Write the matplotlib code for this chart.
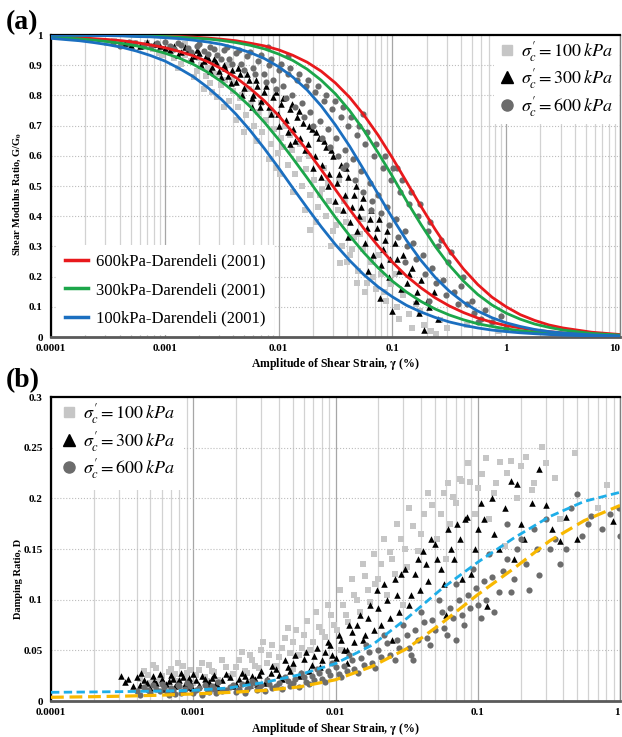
import numpy as np
import matplotlib.pyplot as plt
from matplotlib.ticker import FixedLocator, FixedFormatter, LogLocator, NullFormatter
from matplotlib.lines import Line2D

plt.rcParams['font.family'] = ['Liberation Serif', 'DejaVu Serif']
plt.rcParams['mathtext.fontset'] = 'stix'

# ---- panel (a): shear modulus ratio ----
a_xticks = [0.0001, 0.001, 0.01, 0.1, 1, 10]
a_xticklabels = ['0.0001', '0.001', '0.01', '0.1', '1', '10']
a_yticks = [0, 0.1, 0.2, 0.3, 0.4, 0.5, 0.6, 0.7, 0.8, 0.9, 1.0]
a_yticklabels = ['0', '0.1', '0.2', '0.3', '0.4', '0.5', '0.6', '0.7', '0.8', '0.9', '1']

# Darendeli (2001) curves, two curves per confining stress
dar_strain = [0.0001, 0.000133, 0.000178, 0.000237, 0.000316, 0.000422, 0.000562, 0.00075,
              0.001, 0.00133, 0.00178, 0.00237, 0.00316, 0.00422, 0.00562, 0.0075,
              0.01, 0.0133, 0.0178, 0.0237, 0.0316, 0.0422, 0.0562, 0.075,
              0.1, 0.133, 0.178, 0.237, 0.316, 0.422, 0.562, 0.75,
              1, 1.33, 1.78, 2.37, 3.16, 5.62, 10]
dar100_low = [0.989, 0.985, 0.981, 0.975, 0.968, 0.959, 0.947, 0.932, 0.914, 0.890, 0.862, 0.827,
              0.786, 0.738, 0.684, 0.624, 0.560, 0.494, 0.428, 0.365, 0.306, 0.253, 0.206, 0.166,
              0.133, 0.105, 0.083, 0.065, 0.050, 0.039, 0.030, 0.023, 0.018, 0.014, 0.011,
              0.0083, 0.0063, 0.0037, 0.0022]
dar300_low = [0.992, 0.990, 0.987, 0.983, 0.978, 0.972, 0.964, 0.953, 0.940, 0.924, 0.903, 0.877,
              0.845, 0.807, 0.763, 0.711, 0.654, 0.592, 0.527, 0.461, 0.396, 0.335, 0.279, 0.229,
              0.185, 0.149, 0.118, 0.093, 0.073, 0.057, 0.044, 0.035, 0.027, 0.021, 0.016,
              0.012, 0.0094, 0.0056, 0.0033]
dar600_low = [0.995, 0.993, 0.991, 0.988, 0.985, 0.981, 0.975, 0.967, 0.958, 0.946, 0.931, 0.912,
              0.888, 0.859, 0.823, 0.782, 0.733, 0.678, 0.618, 0.554, 0.488, 0.422, 0.359, 0.301,
              0.248, 0.202, 0.163, 0.130, 0.103, 0.081, 0.063, 0.049, 0.038, 0.030, 0.023,
              0.018, 0.0136, 0.0080, 0.0048]
dar100_up = [0.999, 0.999, 0.999, 0.998, 0.998, 0.997, 0.995, 0.994, 0.991, 0.988, 0.983, 0.977,
             0.969, 0.957, 0.942, 0.922, 0.895, 0.861, 0.818, 0.765, 0.702, 0.631, 0.553, 0.473,
             0.394, 0.320, 0.254, 0.198, 0.152, 0.115, 0.086, 0.064, 0.047, 0.035, 0.025,
             0.018, 0.0134, 0.0071, 0.0037]
dar300_up = [1.0, 0.999, 0.999, 0.999, 0.999, 0.998, 0.997, 0.996, 0.995, 0.993, 0.990, 0.987,
             0.982, 0.975, 0.966, 0.954, 0.937, 0.916, 0.887, 0.850, 0.805, 0.749, 0.684, 0.610,
             0.532, 0.451, 0.373, 0.301, 0.238, 0.185, 0.141, 0.106, 0.079, 0.059, 0.043,
             0.032, 0.023, 0.012, 0.0065]
dar600_up = [1.0, 1.0, 0.999, 0.999, 0.999, 0.998, 0.998, 0.997, 0.996, 0.995, 0.993, 0.990,
             0.986, 0.981, 0.973, 0.964, 0.951, 0.933, 0.910, 0.880, 0.841, 0.793, 0.735, 0.668,
             0.593, 0.514, 0.433, 0.357, 0.286, 0.225, 0.174, 0.132, 0.100, 0.074, 0.055,
             0.040, 0.030, 0.016, 0.0083]

# test data (strain %, G/G0)
g100 = [(0.00031, 0.975), (0.00042, 0.968), (0.00055, 0.972), (0.00063, 0.960), (0.00078, 0.955),
        (0.00089, 0.942), (0.00105, 0.948), (0.0012, 0.925), (0.0014, 0.905), (0.0015, 0.935),
        (0.0017, 0.915), (0.0019, 0.880), (0.0021, 0.900), (0.0023, 0.865), (0.0025, 0.840),
        (0.0027, 0.870), (0.0029, 0.795), (0.0031, 0.835), (0.0034, 0.850), (0.0037, 0.780),
        (0.0040, 0.815), (0.0044, 0.760), (0.0048, 0.800), (0.0052, 0.735), (0.0057, 0.775),
        (0.0061, 0.700), (0.0066, 0.745), (0.0072, 0.680), (0.0078, 0.720), (0.0085, 0.640),
        (0.0091, 0.690), (0.0098, 0.610), (0.0105, 0.660), (0.0113, 0.700), (0.0120, 0.570),
        (0.0130, 0.620), (0.0140, 0.540), (0.0150, 0.590), (0.0160, 0.500), (0.0175, 0.555),
        (0.0190, 0.470), (0.0205, 0.520), (0.0220, 0.430), (0.0240, 0.490), (0.0260, 0.400),
        (0.0280, 0.450), (0.0300, 0.350), (0.0330, 0.420), (0.0360, 0.300), (0.0390, 0.380),
        (0.0420, 0.270), (0.0460, 0.330), (0.0500, 0.220), (0.0550, 0.290), (0.0600, 0.180),
        (0.0650, 0.250), (0.0720, 0.160), (0.0800, 0.210), (0.0880, 0.120), (0.0970, 0.175),
        (0.110, 0.100), (0.125, 0.140), (0.140, 0.075), (0.160, 0.110), (0.190, 0.040),
        (0.220, 0.020), (0.260, 0.055), (0.0036, 0.900), (0.0250, 0.560), (0.0340, 0.520),
        (0.0015, 0.970), (0.0550, 0.390), (0.0095, 0.560), (0.0022, 0.820), (0.0189, 0.354),
        (0.0345, 0.245), (0.0490, 0.180),
        (0.00036, 0.980), (0.00048, 0.962), (0.00070, 0.975), (0.00095, 0.935), (0.0011, 0.960),
        (0.0013, 0.890), (0.0016, 0.950), (0.0018, 0.860), (0.0020, 0.925), (0.0024, 0.890),
        (0.0026, 0.810), (0.0030, 0.870), (0.0033, 0.760), (0.0039, 0.850), (0.0042, 0.720),
        (0.0046, 0.790), (0.0050, 0.680), (0.0055, 0.820), (0.0064, 0.650), (0.0070, 0.775),
        (0.0082, 0.590), (0.0088, 0.740), (0.0102, 0.540), (0.0110, 0.630), (0.0125, 0.670),
        (0.0135, 0.480), (0.0155, 0.640), (0.0170, 0.420), (0.0185, 0.600), (0.0215, 0.380),
        (0.0230, 0.470), (0.0270, 0.510), (0.0290, 0.300), (0.0320, 0.370), (0.0375, 0.450),
        (0.0400, 0.250), (0.0440, 0.290), (0.0520, 0.340), (0.0580, 0.150), (0.0680, 0.200),
        (0.0760, 0.270), (0.0850, 0.150), (0.1050, 0.210), (0.1150, 0.060), (0.1500, 0.030),
        (0.1750, 0.085), (0.2400, 0.010), (0.3000, 0.030), (0.8500, 0.020), (0.4500, 0.040)]
g300 = [(0.00045, 0.975), (0.00060, 0.965), (0.00080, 0.970), (0.0010, 0.958), (0.0012, 0.962),
        (0.0014, 0.945), (0.0016, 0.950), (0.0018, 0.930), (0.0020, 0.940), (0.0022, 0.915),
        (0.0024, 0.925), (0.0026, 0.895), (0.0028, 0.910), (0.0030, 0.880), (0.0033, 0.900),
        (0.0036, 0.865), (0.0039, 0.885), (0.0042, 0.845), (0.0046, 0.870), (0.0050, 0.825),
        (0.0055, 0.850), (0.0060, 0.800), (0.0065, 0.830), (0.0070, 0.780), (0.0075, 0.810),
        (0.0082, 0.760), (0.0090, 0.795), (0.0098, 0.740), (0.0105, 0.770), (0.0115, 0.720),
        (0.0125, 0.755), (0.0135, 0.690), (0.0145, 0.730), (0.0155, 0.660), (0.0165, 0.710),
        (0.0180, 0.640), (0.0195, 0.690), (0.0210, 0.600), (0.0225, 0.660), (0.0240, 0.570),
        (0.0260, 0.630), (0.0280, 0.540), (0.0300, 0.600), (0.0325, 0.510), (0.0350, 0.570),
        (0.0380, 0.470), (0.0410, 0.530), (0.0440, 0.430), (0.0475, 0.500), (0.0510, 0.400),
        (0.0550, 0.460), (0.0600, 0.360), (0.0650, 0.420), (0.0700, 0.330), (0.0760, 0.390),
        (0.0820, 0.290), (0.0890, 0.350), (0.0960, 0.260), (0.1050, 0.310), (0.1150, 0.220),
        (0.1250, 0.270), (0.1350, 0.180), (0.1500, 0.230), (0.1650, 0.150), (0.1800, 0.190),
        (0.2000, 0.120), (0.2300, 0.150), (0.1900, 0.023), (0.0410, 0.330), (0.1000, 0.085),
        (0.0780, 0.130), (0.0610, 0.220), (0.0125, 0.640), (0.0058, 0.760),
        (0.00050, 0.968), (0.00070, 0.978), (0.00090, 0.962), (0.0011, 0.950), (0.0013, 0.935),
        (0.0015, 0.960), (0.0017, 0.920), (0.0019, 0.950), (0.0021, 0.900), (0.0023, 0.930),
        (0.0025, 0.880), (0.0027, 0.920), (0.0031, 0.860), (0.0034, 0.890), (0.0038, 0.840),
        (0.0044, 0.890), (0.0048, 0.800), (0.0053, 0.870), (0.0058, 0.790), (0.0063, 0.850),
        (0.0068, 0.760), (0.0078, 0.830), (0.0086, 0.740), (0.0094, 0.810), (0.0100, 0.700),
        (0.0110, 0.790), (0.0120, 0.680), (0.0130, 0.770), (0.0140, 0.650), (0.0150, 0.750),
        (0.0170, 0.620), (0.0185, 0.700), (0.0200, 0.560), (0.0215, 0.680), (0.0235, 0.530),
        (0.0250, 0.650), (0.0270, 0.500), (0.0290, 0.620), (0.0310, 0.450), (0.0340, 0.540),
        (0.0365, 0.420), (0.0395, 0.560), (0.0425, 0.380), (0.0460, 0.470), (0.0490, 0.350),
        (0.0530, 0.430), (0.0570, 0.310), (0.0630, 0.390), (0.0680, 0.270), (0.0730, 0.360),
        (0.0800, 0.240), (0.0860, 0.320), (0.0930, 0.200), (0.1100, 0.260), (0.1200, 0.160),
        (0.1400, 0.210), (0.1600, 0.120), (0.1700, 0.080), (0.2100, 0.100), (0.2500, 0.060)]
g600 = [(0.00035, 0.972), (0.00048, 0.978), (0.00065, 0.968), (0.00085, 0.975), (0.0011, 0.965),
        (0.0013, 0.972), (0.0016, 0.958), (0.0019, 0.965), (0.0022, 0.948), (0.0025, 0.960),
        (0.0029, 0.935), (0.0033, 0.950), (0.0037, 0.920), (0.0042, 0.940), (0.0047, 0.905),
        (0.0053, 0.930), (0.0059, 0.890), (0.0066, 0.915), (0.0074, 0.870), (0.0082, 0.900),
        (0.0090, 0.850), (0.0100, 0.885), (0.0110, 0.830), (0.0120, 0.870), (0.0132, 0.800),
        (0.0145, 0.850), (0.0160, 0.775), (0.0175, 0.830), (0.0190, 0.745), (0.0210, 0.810),
        (0.0230, 0.715), (0.0250, 0.780), (0.0270, 0.690), (0.0295, 0.755), (0.0320, 0.660),
        (0.0350, 0.730), (0.0380, 0.620), (0.0410, 0.700), (0.0450, 0.590), (0.0490, 0.670),
        (0.0530, 0.550), (0.0580, 0.640), (0.0630, 0.510), (0.0690, 0.600), (0.0750, 0.470),
        (0.0820, 0.560), (0.0900, 0.430), (0.0980, 0.520), (0.1070, 0.390), (0.1170, 0.480),
        (0.1280, 0.350), (0.1400, 0.440), (0.1530, 0.310), (0.1680, 0.400), (0.1850, 0.270),
        (0.2050, 0.350), (0.2250, 0.230), (0.2500, 0.300), (0.2800, 0.190), (0.3100, 0.250),
        (0.3500, 0.150), (0.4000, 0.170), (0.4500, 0.110), (0.5200, 0.080), (0.6000, 0.060),
        (0.7500, 0.050), (0.9000, 0.070), (0.0120, 0.930), (0.0550, 0.740), (0.0080, 0.960),
        (0.1100, 0.560), (0.0370, 0.560), (0.0650, 0.420), (0.1300, 0.250), (0.2100, 0.120),
        (0.00040, 0.965), (0.00055, 0.975), (0.00075, 0.962), (0.0010, 0.978), (0.0012, 0.955),
        (0.0014, 0.968), (0.0017, 0.945), (0.0020, 0.970), (0.0024, 0.938), (0.0027, 0.955),
        (0.0031, 0.920), (0.0035, 0.960), (0.0039, 0.905), (0.0045, 0.950), (0.0050, 0.885),
        (0.0056, 0.945), (0.0062, 0.870), (0.0070, 0.935), (0.0078, 0.845), (0.0086, 0.920),
        (0.0095, 0.820), (0.0105, 0.905), (0.0115, 0.790), (0.0126, 0.890), (0.0138, 0.760),
        (0.0152, 0.870), (0.0168, 0.730), (0.0182, 0.850), (0.0200, 0.700), (0.0220, 0.830),
        (0.0240, 0.660), (0.0260, 0.800), (0.0285, 0.630), (0.0310, 0.780), (0.0335, 0.600),
        (0.0365, 0.760), (0.0395, 0.570), (0.0430, 0.730), (0.0470, 0.520), (0.0510, 0.700),
        (0.0555, 0.480), (0.0600, 0.680), (0.0660, 0.450), (0.0720, 0.640), (0.0790, 0.410),
        (0.0860, 0.600), (0.0940, 0.370), (0.1020, 0.560), (0.1120, 0.330), (0.1220, 0.520),
        (0.1340, 0.300), (0.1460, 0.480), (0.1600, 0.260), (0.1750, 0.440), (0.1950, 0.210),
        (0.2150, 0.380), (0.2400, 0.180), (0.2650, 0.320), (0.2950, 0.140), (0.3300, 0.280),
        (0.3800, 0.110), (0.4200, 0.200), (0.5000, 0.120), (0.5600, 0.050), (0.6500, 0.090),
        (1.0000, 0.030)]

# ---- panel (b): damping ratio ----
b_xticks = [0.0001, 0.001, 0.01, 0.1, 1]
b_xticklabels = ['0.0001', '0.001', '0.01', '0.1', '1']
b_yticks = [0, 0.05, 0.1, 0.15, 0.2, 0.25, 0.3]
b_yticklabels = ['0', '0.05', '0.1', '0.15', '0.2', '0.25', '0.3']

damp_strain = [0.0001, 0.00018, 0.00032, 0.00056, 0.001, 0.0018, 0.0032, 0.0056, 0.01, 0.018,
               0.032, 0.056, 0.1, 0.18, 0.32, 0.56, 1]
damp_blue = [0.0086, 0.0089, 0.0093, 0.0098, 0.0105, 0.013, 0.0185, 0.026, 0.037, 0.055,
             0.082, 0.111, 0.137, 0.161, 0.182, 0.197, 0.206]
damp_yellow = [0.0037, 0.0042, 0.0048, 0.0057, 0.007, 0.0085, 0.0105, 0.014, 0.021, 0.034,
               0.052, 0.077, 0.105, 0.131, 0.158, 0.178, 0.193]

d100 = [(0.00042, 0.022), (0.00045, 0.030), (0.0005, 0.018), (0.00055, 0.033), (0.0006, 0.025),
        (0.00065, 0.015), (0.0007, 0.032), (0.00075, 0.027), (0.0008, 0.020), (0.00085, 0.035),
        (0.0009, 0.028), (0.001, 0.018), (0.0011, 0.031), (0.0012, 0.024), (0.0013, 0.036),
        (0.0014, 0.029), (0.0015, 0.021), (0.0017, 0.034), (0.0019, 0.027), (0.0021, 0.040),
        (0.0023, 0.030), (0.0025, 0.045), (0.0027, 0.035), (0.003, 0.050), (0.0033, 0.038),
        (0.0036, 0.055), (0.004, 0.043), (0.0044, 0.062), (0.0048, 0.047), (0.0053, 0.070),
        (0.0058, 0.052), (0.0063, 0.079), (0.007, 0.058), (0.0077, 0.073), (0.0085, 0.063),
        (0.0093, 0.085), (0.0102, 0.070), (0.0112, 0.095), (0.0123, 0.078), (0.0135, 0.105),
        (0.0148, 0.088), (0.016, 0.123), (0.0175, 0.098), (0.019, 0.115), (0.021, 0.135),
        (0.023, 0.105), (0.024, 0.147), (0.026, 0.125), (0.029, 0.160), (0.032, 0.132),
        (0.035, 0.173), (0.038, 0.148), (0.042, 0.185), (0.048, 0.193), (0.052, 0.160),
        (0.058, 0.205), (0.064, 0.175), (0.067, 0.201), (0.075, 0.219), (0.078, 0.217),
        (0.088, 0.216), (0.095, 0.185), (0.107, 0.224), (0.12, 0.180), (0.13, 0.205),
        (0.144, 0.236), (0.155, 0.153), (0.17, 0.237), (0.19, 0.200), (0.22, 0.241),
        (0.25, 0.215), (0.283, 0.251), (0.35, 0.220), (0.38, 0.180), (0.81, 0.213),
        (0.06, 0.140), (0.03, 0.095), (0.011, 0.050), (0.005, 0.032),
        (0.00043, 0.012), (0.00048, 0.026), (0.00052, 0.036), (0.00058, 0.020), (0.00068, 0.029),
        (0.00072, 0.022), (0.00078, 0.038), (0.00088, 0.024), (0.00095, 0.031), (0.00105, 0.026),
        (0.00115, 0.038), (0.00125, 0.020), (0.00135, 0.030), (0.0016, 0.040), (0.0018, 0.025),
        (0.002, 0.034), (0.0022, 0.048), (0.0024, 0.028), (0.0026, 0.040), (0.0029, 0.033),
        (0.0031, 0.058), (0.0034, 0.045), (0.0038, 0.035), (0.0042, 0.052), (0.0046, 0.072),
        (0.005, 0.058), (0.0055, 0.045), (0.006, 0.065), (0.0066, 0.050), (0.0073, 0.088),
        (0.008, 0.068), (0.0088, 0.095), (0.0097, 0.075), (0.0108, 0.110), (0.0118, 0.085),
        (0.013, 0.120), (0.0142, 0.100), (0.0155, 0.135), (0.017, 0.110), (0.0185, 0.145),
        (0.02, 0.120), (0.022, 0.160), (0.025, 0.140), (0.027, 0.175), (0.031, 0.150),
        (0.033, 0.190), (0.04, 0.165), (0.045, 0.205), (0.055, 0.185), (0.062, 0.215),
        (0.07, 0.195), (0.085, 0.235), (0.1, 0.210), (0.115, 0.240), (0.135, 0.215),
        (0.16, 0.225), (0.2, 0.232), (0.24, 0.208), (0.3, 0.235), (0.48, 0.245), (0.7, 0.190)]
d300 = [(0.00031, 0.025), (0.00033, 0.019), (0.0004, 0.024), (0.00042, 0.016), (0.00045, 0.021),
        (0.0005, 0.013), (0.00052, 0.025), (0.00055, 0.018), (0.0006, 0.022), (0.00062, 0.012),
        (0.00068, 0.020), (0.0007, 0.026), (0.00075, 0.015), (0.0008, 0.021), (0.00085, 0.024),
        (0.0009, 0.014), (0.00095, 0.019), (0.001, 0.027), (0.0011, 0.016), (0.0012, 0.022),
        (0.0013, 0.019), (0.0014, 0.026), (0.0015, 0.014), (0.0016, 0.021), (0.0018, 0.024),
        (0.002, 0.017), (0.0022, 0.028), (0.0024, 0.020), (0.0026, 0.025), (0.0028, 0.017),
        (0.003, 0.030), (0.0033, 0.022), (0.0036, 0.035), (0.004, 0.026), (0.0044, 0.040),
        (0.0048, 0.030), (0.0052, 0.045), (0.0057, 0.028), (0.0062, 0.048), (0.0068, 0.036),
        (0.0074, 0.052), (0.008, 0.040), (0.0088, 0.058), (0.0095, 0.045), (0.0105, 0.065),
        (0.0115, 0.050), (0.0125, 0.075), (0.0135, 0.058), (0.0148, 0.085), (0.016, 0.065),
        (0.0175, 0.095), (0.0195, 0.110), (0.021, 0.075), (0.023, 0.100), (0.026, 0.120),
        (0.028, 0.088), (0.031, 0.130), (0.034, 0.105), (0.038, 0.140), (0.041, 0.148),
        (0.045, 0.118), (0.05, 0.155), (0.055, 0.130), (0.062, 0.170), (0.068, 0.140),
        (0.075, 0.160), (0.084, 0.182), (0.09, 0.125), (0.1, 0.170), (0.106, 0.195),
        (0.116, 0.094), (0.126, 0.200), (0.14, 0.150), (0.17, 0.217), (0.19, 0.214),
        (0.21, 0.160), (0.27, 0.229), (0.3, 0.193), (0.38, 0.158), (0.42, 0.182),
        (0.89, 0.178), (0.081, 0.180), (0.06, 0.085), (0.025, 0.060), (0.012, 0.038),
        (0.00035, 0.022), (0.00038, 0.015), (0.00043, 0.028), (0.00047, 0.018), (0.00053, 0.020),
        (0.00058, 0.027), (0.00064, 0.017), (0.00072, 0.022), (0.00078, 0.019), (0.00082, 0.028),
        (0.00088, 0.017), (0.00093, 0.023), (0.00098, 0.013), (0.00105, 0.021), (0.00115, 0.025),
        (0.00125, 0.017), (0.00135, 0.023), (0.00145, 0.018), (0.0017, 0.027), (0.0019, 0.015),
        (0.0021, 0.022), (0.0023, 0.025), (0.0025, 0.016), (0.0027, 0.022), (0.0029, 0.026),
        (0.0032, 0.018), (0.0035, 0.028), (0.0038, 0.032), (0.0042, 0.022), (0.0046, 0.034),
        (0.005, 0.038), (0.0055, 0.025), (0.006, 0.041), (0.0065, 0.030), (0.0071, 0.044),
        (0.0078, 0.034), (0.0084, 0.048), (0.0092, 0.055), (0.01, 0.042), (0.011, 0.060),
        (0.012, 0.050), (0.013, 0.068), (0.0142, 0.075), (0.0155, 0.060), (0.0168, 0.082),
        (0.0185, 0.070), (0.02, 0.092), (0.022, 0.115), (0.024, 0.082), (0.027, 0.105),
        (0.029, 0.125), (0.033, 0.095), (0.036, 0.125), (0.039, 0.110), (0.043, 0.135),
        (0.047, 0.160), (0.052, 0.140), (0.058, 0.115), (0.065, 0.150), (0.072, 0.175),
        (0.078, 0.120), (0.095, 0.150), (0.11, 0.180), (0.13, 0.165), (0.155, 0.190),
        (0.18, 0.140), (0.2, 0.175), (0.24, 0.195), (0.33, 0.170), (0.5, 0.160)]
d600 = [(0.0004, 0.010), (0.00045, 0.014), (0.0005, 0.008), (0.00055, 0.012), (0.0006, 0.017),
        (0.00065, 0.009), (0.0007, 0.013), (0.00075, 0.007), (0.0008, 0.015), (0.00085, 0.010),
        (0.0009, 0.018), (0.001, 0.008), (0.0011, 0.013), (0.0012, 0.016), (0.0013, 0.009),
        (0.0014, 0.012), (0.0015, 0.019), (0.0016, 0.010), (0.0018, 0.014), (0.002, 0.009),
        (0.0022, 0.017), (0.0024, 0.012), (0.0026, 0.020), (0.0028, 0.011), (0.003, 0.016),
        (0.0033, 0.021), (0.0036, 0.013), (0.004, 0.018), (0.0044, 0.024), (0.0048, 0.015),
        (0.0052, 0.022), (0.0057, 0.028), (0.0062, 0.019), (0.0068, 0.025), (0.0074, 0.032),
        (0.008, 0.022), (0.0088, 0.030), (0.0095, 0.038), (0.0105, 0.027), (0.0115, 0.035),
        (0.0125, 0.045), (0.0135, 0.032), (0.015, 0.042), (0.0165, 0.055), (0.018, 0.038),
        (0.02, 0.050), (0.022, 0.065), (0.024, 0.045), (0.027, 0.060), (0.03, 0.075),
        (0.033, 0.052), (0.036, 0.070), (0.04, 0.088), (0.044, 0.062), (0.048, 0.080),
        (0.053, 0.100), (0.058, 0.072), (0.064, 0.092), (0.07, 0.115), (0.077, 0.085),
        (0.085, 0.105), (0.093, 0.130), (0.1, 0.095), (0.11, 0.118), (0.12, 0.145),
        (0.13, 0.088), (0.15, 0.128), (0.17, 0.108), (0.19, 0.150), (0.22, 0.135),
        (0.25, 0.170), (0.27, 0.124), (0.32, 0.150), (0.38, 0.135), (0.45, 0.190),
        (0.5, 0.204), (0.54, 0.163), (0.63, 0.183), (0.75, 0.170), (0.99, 0.190),
        (1.0, 0.163), (0.16, 0.175), (0.07, 0.060), (0.035, 0.040),
        (0.00042, 0.006), (0.00048, 0.011), (0.00052, 0.016), (0.00058, 0.010), (0.00062, 0.014),
        (0.00068, 0.006), (0.00072, 0.011), (0.00078, 0.016), (0.00082, 0.008), (0.00088, 0.012),
        (0.00095, 0.015), (0.00105, 0.011), (0.00115, 0.006), (0.00125, 0.012), (0.00135, 0.015),
        (0.00145, 0.008), (0.0017, 0.011), (0.0019, 0.016), (0.0021, 0.012), (0.0023, 0.008),
        (0.0025, 0.015), (0.0027, 0.018), (0.0029, 0.013), (0.0032, 0.010), (0.0034, 0.017),
        (0.0038, 0.015), (0.0042, 0.012), (0.0046, 0.020), (0.005, 0.018), (0.0055, 0.014),
        (0.006, 0.024), (0.0065, 0.017), (0.0071, 0.021), (0.0077, 0.028), (0.0084, 0.019),
        (0.0091, 0.026), (0.01, 0.034), (0.011, 0.024), (0.012, 0.030), (0.013, 0.040),
        (0.0145, 0.028), (0.0158, 0.036), (0.0172, 0.048), (0.019, 0.033), (0.021, 0.043),
        (0.023, 0.057), (0.026, 0.040), (0.028, 0.052), (0.032, 0.065), (0.034, 0.045),
        (0.038, 0.060), (0.042, 0.078), (0.046, 0.055), (0.05, 0.070), (0.056, 0.088),
        (0.061, 0.065), (0.067, 0.082), (0.074, 0.100), (0.08, 0.075), (0.088, 0.092),
        (0.097, 0.112), (0.105, 0.082), (0.115, 0.100), (0.125, 0.122), (0.14, 0.108),
        (0.16, 0.140), (0.18, 0.120), (0.2, 0.160), (0.23, 0.110), (0.26, 0.150),
        (0.3, 0.180), (0.35, 0.160), (0.42, 0.150), (0.6, 0.175), (0.85, 0.185)]

sig_labels = [r"$\sigma_c^{\prime} = 100\,kPa$", r"$\sigma_c^{\prime} = 300\,kPa$",
              r"$\sigma_c^{\prime} = 600\,kPa$"]
c100, c300, c600 = '#c6c6c6', '#000000', '#6c6c6c'
red, green, blue = '#e8191c', '#1ca64a', '#1b6fc0'


def style_axis(ax, xmax, xticks, xlabels, yticks, ylabels, ymax, ylabel, ylabel_y, xlabel_y):
    ax.set_xscale('log')
    ax.set_xlim(0.0001, xmax)
    ax.set_ylim(0, ymax)
    ax.xaxis.set_major_locator(FixedLocator(xticks))
    ax.xaxis.set_major_formatter(FixedFormatter(xlabels))
    ax.xaxis.set_minor_locator(LogLocator(base=10, subs=np.arange(2, 10)))
    ax.xaxis.set_minor_formatter(NullFormatter())
    ax.set_yticks(yticks, ylabels)
    ax.set_axisbelow(True)
    ax.grid(which='minor', axis='x', color='#d2d2d2', lw=0.9)
    ax.grid(which='major', axis='x', color='#a6a6a6', lw=0.9)
    ax.grid(which='major', axis='y', color='#bdbdbd', lw=0.8, ls=':')
    ax.tick_params(which='both', length=0)
    ax.tick_params(axis='y', pad=6, labelsize=8)
    ax.tick_params(axis='x', pad=5, labelsize=8)
    plt.setp(ax.get_xticklabels() + ax.get_yticklabels(), fontweight='bold')
    ax.get_xticklabels()[-1].set_horizontalalignment('right')
    for side in ['top', 'left']:
        ax.spines[side].set_color('black')
        ax.spines[side].set_linewidth(1.6)
    ax.spines['bottom'].set_color('#5a5a5a')
    ax.spines['bottom'].set_linewidth(2.0)
    ax.spines['right'].set_color('#808080')
    ax.spines['right'].set_linewidth(1.0)
    ax.set_xlabel(r'Amplitude of Shear Strain, $\mathbf{\gamma}$ (%)', fontsize=8.5, fontweight='bold')
    ax.xaxis.set_label_coords(0.5, xlabel_y)
    ax.set_ylabel(ylabel, fontsize=7.5, fontweight='bold')
    ax.yaxis.set_label_coords(-0.05, ylabel_y)


def marker_handles():
    return [Line2D([], [], ls='none', marker='s', color=c100, markersize=7),
            Line2D([], [], ls='none', marker='^', color=c300, markersize=8),
            Line2D([], [], ls='none', marker='o', color=c600, markersize=8)]


fig = plt.figure(figsize=(6.22, 7.37), dpi=100)
ax1 = fig.add_axes([0.082, 0.5427, 0.9148, 0.4098])
ax2 = fig.add_axes([0.082, 0.0488, 0.9148, 0.4125])

# panel (a)
style_axis(ax1, 10, a_xticks, a_xticklabels, a_yticks, a_yticklabels, 1.0,
           r'Shear Modulus Ratio, G/G$_\mathbf{0}$', 0.474, -0.063)
for pts, mk, col, sz in [(g100, 's', c100, 18), (g300, '^', c300, 22), (g600, 'o', c600, 20)]:
    p = np.array(pts)
    ax1.scatter(p[:, 0], p[:, 1], marker=mk, s=sz, color=col, linewidths=0, zorder=2)

ax1.plot(dar_strain, dar600_low, color=red, lw=2, zorder=3)
ax1.plot(dar_strain, dar600_up, color=red, lw=2, zorder=3)
ax1.plot(dar_strain, dar300_low, color=green, lw=2, zorder=3)
ax1.plot(dar_strain, dar300_up, color=green, lw=2, zorder=3)
ax1.plot(dar_strain, dar100_low, color=blue, lw=2, zorder=3)
ax1.plot(dar_strain, dar100_up, color=blue, lw=2, zorder=3)

line_handles = [Line2D([], [], color=red, lw=2.5), Line2D([], [], color=green, lw=2.5),
                Line2D([], [], color=blue, lw=2.5)]
leg1 = ax1.legend(line_handles, ['600kPa-Darendeli (2001)', '300kPa-Darendeli (2001)',
                                 '100kPa-Darendeli (2001)'],
                  loc='lower left', bbox_to_anchor=(-0.005, -0.02), fontsize=12, frameon=True,
                  facecolor='white', edgecolor='none', framealpha=1, fancybox=False,
                  handlelength=1.4, handletextpad=0.5, labelspacing=0.75, borderpad=0.5)
leg1.set_zorder(2.2)
ax1.add_artist(leg1)
leg2 = ax1.legend(marker_handles(), sig_labels, loc='upper right', bbox_to_anchor=(1.013, 1.035),
                  fontsize=13, frameon=True, facecolor='white', edgecolor='none', framealpha=1,
                  fancybox=False, handlelength=0.8, handletextpad=0.4, labelspacing=0.15,
                  borderpad=0.3)
leg2.set_zorder(2.2)

# panel (b)
style_axis(ax2, 1, b_xticks, b_xticklabels, b_yticks, b_yticklabels, 0.3,
           'Damping Ratio, D', 0.40, -0.066)
for pts, mk, col, sz in [(d100, 's', c100, 18), (d300, '^', c300, 22), (d600, 'o', c600, 20)]:
    p = np.array(pts)
    ax2.scatter(p[:, 0], p[:, 1], marker=mk, s=sz, color=col, linewidths=0, zorder=2)
ax2.plot(damp_strain, damp_blue, color='#1eaee8', lw=2, dashes=(3, 1.6), zorder=3)
ax2.plot(damp_strain, damp_yellow, color='#f8b800', lw=2.3, dashes=(4, 1.8), zorder=3)
leg3 = ax2.legend(marker_handles(), sig_labels, loc='upper left', bbox_to_anchor=(-0.013, 1.045),
                  fontsize=13, frameon=True, facecolor='white', edgecolor='none', framealpha=1,
                  fancybox=False, handlelength=0.8, handletextpad=0.4, labelspacing=0.15,
                  borderpad=0.5)
leg3.set_zorder(2.2)

fig.text(0.01, 0.970, '(a)', fontsize=20, fontweight='bold', va='center', ha='left')
fig.text(0.01, 0.483, '(b)', fontsize=20, fontweight='bold', va='center', ha='left')

plt.savefig('out.png', dpi=100)
